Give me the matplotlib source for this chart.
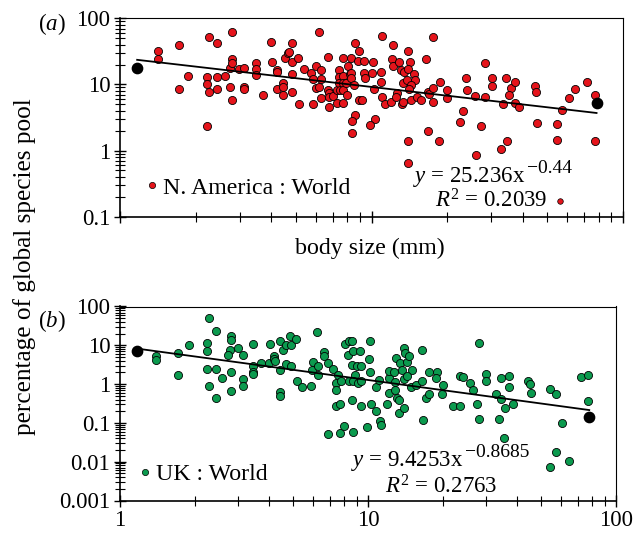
import numpy as np
import matplotlib
matplotlib.use('Agg')
import matplotlib.pyplot as plt
from matplotlib.ticker import LogLocator, FuncFormatter, NullFormatter
from matplotlib.lines import Line2D

plt.rcParams['font.family'] = ['Liberation Serif', 'DejaVu Serif']
plt.rcParams['mathtext.fontset'] = 'custom'
plt.rcParams['mathtext.rm'] = 'Liberation Serif'
plt.rcParams['mathtext.it'] = 'Liberation Serif:italic'

# (a) N. America : World  -- body size (mm) vs % of global species pool
na_size = [1.41, 1.41, 1.72, 1.72, 1.87, 2.21, 2.21, 2.26, 2.26, 2.21,
           2.44, 2.44, 2.44, 2.61, 2.74, 2.74, 2.80, 2.80, 2.80, 2.80,
           2.98, 3.12, 3.12, 3.12, 3.46, 3.46, 3.46, 3.72, 3.97, 4.02,
           4.21, 4.21, 4.21, 4.43, 4.43, 4.43, 4.53, 4.64, 4.71, 4.84,
           4.84, 4.84, 4.84, 5.10, 5.16, 5.41, 5.75, 5.84, 5.84, 6.0,
           6.0, 6.2, 6.2, 6.3, 6.3, 6.3, 6.7, 6.7, 6.8, 6.8,
           6.8, 7.05, 7.3, 7.3, 7.4, 7.4, 7.4, 7.5, 7.7, 7.7,
           7.7, 7.7, 7.7, 7.9, 8.0, 8.1, 8.2,
           8.6, 8.95, 8.3, 8.8, 9.3, 10.1, 9.3, 8.3, 9.4, 8.3,
           10.0, 8.5, 8.95, 9.2, 10.2, 8.6, 8.4, 8.4, 10.3, 9.9,
           11.0, 10.9, 10.9, 11.0, 11.3, 12.2, 12.1, 12.2, 11.9, 12.6,
           12.5, 12.9, 13.1, 13.5, 13.3, 13.2, 13.4, 14.0, 14.2, 14.0,
           13.9, 14.7, 14.9, 14.4, 14.1, 14.4, 14.0, 14.0, 15.1, 15.7,
           16.5, 16.7, 17.0, 17.6, 17.6, 17.5, 16.7, 18.6, 18.8, 19.9,
           19.9, 22.5, 23.1, 23.8, 23.9, 25.8, 26.0, 27.2, 28.2, 28.2,
           30.1, 30.1, 32.7, 33.2, 34.3, 34.5, 35.8, 35.3, 37.1, 37.1,
           38.5, 44.7, 45.0, 45.4, 54.5, 54.5, 57.4, 61.0, 64.4, 71.7,
           77.4, 77.4]
na_pct = [32, 24, 40, 8.4, 13.4, 12.8, 10.2, 52, 7.6, 2.35,
          42, 12.8, 8.4, 13.4, 18, 9.2, 62, 24, 21, 5.8,
          17, 18, 9.2, 8.4, 21, 17, 13.9, 6.9, 44, 22,
          16.5, 15.6, 8.4, 10.6, 9.0, 6.9, 25, 30, 31, 42,
          22, 14.4, 7.6, 25, 5.0, 17, 14.7, 12.2, 5.0, 19,
          8.8, 62, 9.2, 16.3, 12.1, 6.3, 26, 8.1, 7.5, 6.5,
          4.5, 6.8, 8.1, 5.3, 16.3, 12.8, 10.4, 8.1, 25, 13.3,
          10.5, 8.1, 5.3, 10.6, 6.9, 19, 14.4,
          42, 32, 25, 23, 23, 22, 15.1, 14.7, 12.4, 12.6,
          15.1, 9.8, 5.8, 5.8, 8.4, 3.5, 2.8, 1.86, 3.0, 2.4,
          54, 15.6, 10.8, 6.5, 5.0, 40, 24, 19, 5.5, 7.3,
          6.5, 22, 16.5, 15.2, 10.6, 5.1, 5.5, 32, 22, 17,
          11.7, 14.4, 11.7, 9.8, 8.4, 5.8, 1.39, 0.65, 6.5, 5.8,
          24, 7.8, 7.2, 52, 8.9, 5.5, 2.0, 1.39, 10.8, 8.1,
          6.3, 2.7, 4.0, 12.4, 8.1, 6.7, 0.87, 2.35, 21, 6.4,
          12.4, 9.6, 1.05, 5.0, 12.4, 1.39, 8.7, 6.9, 10.8, 5.3,
          4.5, 9.5, 7.6, 2.6, 2.5, 1.44, 4.1, 6.3, 8.4, 10.8,
          6.9, 1.39]
na_extra = ([56.2], [0.17])            # small point next to R^2 label
na_ends = ([1.17, 78.5], [17.9, 5.2])  # black end points
na_fit = (25.236, -0.44)

# (b) UK : World
uk_size = [1.40, 1.40, 1.71, 1.71, 1.90, 2.24, 2.24, 2.24, 2.28, 2.28,
           2.44, 2.44, 2.44, 2.57, 2.78, 2.73, 2.80, 2.80, 2.80, 2.80,
           2.99, 3.14, 3.14, 3.14, 3.43, 3.45, 3.45, 3.45, 3.72, 4.03,
           4.0, 4.19, 4.19, 4.22, 4.42, 4.43, 4.42, 4.42, 4.53, 4.66,
           4.67, 4.85, 4.89, 5.11, 4.89, 5.16, 5.40, 5.89, 6.25, 6.0,
           5.97, 6.3, 6.3, 6.65, 6.65, 6.9, 6.9, 7.25, 7.4, 7.55,
           7.4, 7.4, 7.7, 7.7, 7.8, 8.0, 8.1, 8.4, 8.3, 8.4,
           8.6, 8.7, 9.3, 8.6, 9.0, 9.4, 8.9, 8.7, 9.1, 9.4,
           8.6, 9.4, 8.7, 9.9, 10.2, 10.1, 10.2, 10.3, 10.8, 10.8,
           11.1, 11.2, 11.3, 11.9, 12.1, 12.2, 12.2, 12.7, 12.9, 12.9,
           13.1, 13.3, 13.3, 13.0, 13.5, 13.7, 14.0, 14.1, 14.3, 14.7,
           15.0, 14.0, 14.0, 14.4, 14.9, 15.6, 16.5, 16.5, 16.7, 17.1,
           17.6, 17.6, 18.9, 18.8, 20.0, 19.9, 22.1, 23.4, 23.5, 24.2,
           25.8, 26.4, 27.4, 28.0, 28.1, 29.8, 29.9, 32.7, 33.6, 34.4,
           34.4, 35.2, 35.7, 37.1, 37.1, 38.5, 44.3, 45.0, 45.4, 54.2,
           57.1, 60.8, 72.3, 77.3, 77.3, 57.1, 54.2, 64.6]
uk_pct = [5.4, 4.2, 6.3, 1.67, 10.1, 11.8, 7.2, 2.5, 0.90, 50,
          24, 2.5, 0.43, 1.42, 7.7, 5.7, 17.6, 13.9, 2.0, 0.65,
          8.5, 1.34, 0.89, 5.7, 10.9, 2.85, 2.1, 1.84, 3.6, 10.9,
          3.6, 5.4, 4.4, 4.0, 13.1, 2.3, 0.61, 0.50, 7.7, 10.1,
          3.3, 16.9, 10.1, 14.7, 3.0, 1.22, 0.82, 0.87, 22, 3.7,
          2.3, 2.85, 1.73, 6.9, 5.2, 3.6, 0.052, 2.5, 1.06, 1.67,
          0.71, 0.27, 0.054, 0.30, 1.22, 0.084, 10.9, 12.6, 5.7, 1.17,
          12.6, 7.2, 7.2, 3.1, 3.0, 3.0, 1.73, 1.17, 1.06, 1.17,
          0.39, 0.27, 0.060, 0.078, 12.6, 4.4, 2.0, 0.31, 0.82, 0.205,
          1.29, 0.109, 0.089, 0.31, 1.42, 2.2, 0.58, 2.0, 1.12, 0.71,
          0.43, 0.18, 0.38, 4.7, 3.5, 2.25, 8.5, 6.5, 3.8, 5.4,
          2.3, 1.34, 0.24, 1.57, 0.84, 0.96, 7.4, 1.17, 0.12, 0.45,
          0.55, 2.1, 2.1, 1.42, 0.96, 0.55, 0.27, 0.27, 1.57, 1.51,
          1.06, 0.69, 0.30, 0.127, 11.8, 1.84, 1.22, 0.55, 0.127, 1.42,
          0.41, 0.042, 0.24, 1.64, 0.82, 0.31, 1.17, 1.02, 0.58, 0.74,
          0.55, 0.099, 1.51, 1.67, 0.37, 0.018, 0.0075, 0.0103]
uk_ends = ([1.17, 78.0], [7.2, 0.146])
uk_fit = (9.4253, -0.8685)

red = '#e5141b'
green = '#0b9a4e'

W, H = 644, 535
def fx(x):
    return x / W
def fy(y):
    return 1 - y / H

fig = plt.figure(figsize=(W / 100, H / 100), dpi=100)
ax1 = fig.add_axes([fx(120), fy(216.7), 503 / W, 198.4 / H])
ax2 = fig.add_axes([fx(120), fy(500.5), 496 / W, 194 / H])

fmt = FuncFormatter(lambda v, p: f'{v:g}')


def style(ax, ymin, xlabels):
    ax.set_xscale('log')
    ax.set_yscale('log')
    ax.set_xlim(1, 100)
    ax.set_ylim(ymin, 100)
    for s in ['left', 'bottom']:
        ax.spines[s].set_linewidth(1.2)
    for s in ['top', 'right']:
        ax.spines[s].set_linewidth(0.8)
    for axis in [ax.xaxis, ax.yaxis]:
        axis.set_major_locator(LogLocator(10, numticks=10))
        axis.set_minor_locator(LogLocator(10, subs=np.arange(2, 10), numticks=100))
        axis.set_minor_formatter(NullFormatter())
    ax.yaxis.set_major_formatter(fmt)
    ax.xaxis.set_major_formatter(fmt)
    ax.tick_params(which='major', direction='inout', length=9, width=1,
                   labelsize=16.5, pad=2.5)
    ax.tick_params(which='minor', direction='inout', length=7, width=0.8)
    ax.tick_params(axis='x', labelbottom=xlabels)


def panel(ax, xs, ys, ends, fit, color):
    ax.scatter(xs, ys, s=34, c=color, edgecolors='k', linewidths=0.6, zorder=3)
    a, b = fit
    xf = np.geomspace(ends[0][0], ends[0][1], 50)
    ax.plot(xf, a * xf ** b, color='k', lw=1.3, zorder=4)
    ax.scatter(ends[0], ends[1], s=55, c='k', zorder=5)


style(ax1, 0.1, False)
style(ax2, 0.001, True)
panel(ax1, na_size, na_pct, na_ends, na_fit, red)
panel(ax2, uk_size, uk_pct, uk_ends, uk_fit, green)
ax1.scatter(*na_extra, s=16, c=red, edgecolors='k', linewidths=0.5, zorder=3)

fs = 17.2
for ax, color, label, x0, y0 in [(ax1, red, 'N. America : World', 146, 188),
                                 (ax2, green, 'UK : World', 139, 474)]:
    h = Line2D([], [], ls='none', marker='o', ms=4.5, mfc=color, mec='k', mew=0.5)
    ax.legend([h], [label], loc='center left', bbox_to_anchor=(fx(x0), fy(y0)),
              bbox_transform=fig.transFigure, frameon=False, handlelength=0.5,
              handletextpad=0.2, borderpad=0, borderaxespad=0, fontsize=fs)

# trend line equations: main text + raised exponent
eqs = [(413, 182, r'$y$ = 25.236x', '\u22120.44', 491, 208, r'$R^2$ = 0.2039'),
       (351, 466, r'$y$ = 9.4253x', '\u22120.8685', 441, 493, r'$R^2$ = 0.2763')]
for x1, y1, main, sup, x2, y2, r2 in eqs:
    t = fig.text(fx(x1), fy(y1), main, ha='left', va='baseline', fontsize=16.5)
    plt.annotate(sup, xy=(1, 1), xycoords=t, xytext=(0.8, 3.5), textcoords='offset points',
                 ha='left', va='top', fontsize=14)
    fig.text(fx(x2), fy(y2), r2, ha='center', va='baseline', fontsize=16.5)

fig.text(fx(66), fy(24), '($a$)', ha='right', va='center', fontsize=16.5)
fig.text(fx(66), fy(321), '($b$)', ha='right', va='center', fontsize=16.5)
fig.text(fx(370), fy(248), 'body size (mm)', ha='center', va='center', fontsize=fs)
fig.text(fx(25), fy(267), 'percentage of global species pool', rotation=90,
         ha='center', va='center', fontsize=18.2)

fig.savefig('out.png', dpi=100)
